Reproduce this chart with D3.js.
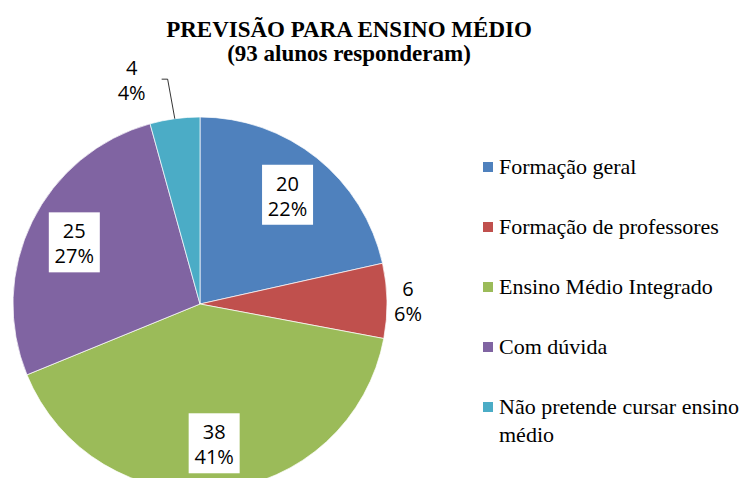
<!DOCTYPE html>
<html>
<head>
<meta charset="utf-8">
<script src="https://cdn.jsdelivr.net/npm/d3@7"></script>
<style>
  body { margin: 0; background: #fff; }
  .serif { font-family: "Liberation Serif", "Times New Roman", serif; }
</style>
</head>
<body>
<div id="chart"></div>
<script>
// data
var categories = ["Formação geral", "Formação de professores", "Ensino Médio Integrado", "Com dúvida", "Não pretende cursar ensino médio"];
var values = [20, 6, 38, 25, 4];
var colors = ["#4F81BD", "#C0504D", "#9BBB59", "#8064A2", "#4BACC6"];
var titleLines = ["PREVISÃO PARA ENSINO MÉDIO", "(93 alunos responderam)"];

var width = 752, height = 478;
var cx = 200, cy = 304, radius = 187;

var svg = d3.select("#chart")
  .append("svg")
    .attr("width", width)
    .attr("height", height);

// title
svg.selectAll(".title")
  .data(titleLines)
  .enter()
  .append("text")
    .attr("class", "serif")
    .attr("x", 349)
    .attr("y", function(d, i) { return 37 + i * 24; })
    .attr("text-anchor", "middle")
    .style("font-weight", "bold")
    .style("font-size", "23px")
    .text(function(d) { return d; });

var total = d3.sum(values);
var data = values.map(function(v, i) { return {name: categories[i], value: v, color: colors[i]}; });

var pie = d3.pie()
  .sort(null)
  .value(function(d) { return d.value; });

var arc = d3.arc()
  .innerRadius(0)
  .outerRadius(radius);

var g = svg.append("g")
  .attr("transform", "translate(" + cx + "," + cy + ")");

var arcs = pie(data);

g.selectAll("path")
  .data(arcs)
  .enter()
  .append("path")
    .attr("d", arc)
    .attr("fill", function(d) { return d.data.color; })
    .attr("stroke", "#fff")
    .attr("stroke-width", 0.7);

// label positions: big slices inside with white box, small ones outside
function labelPos(d) {
  var mid = (d.startAngle + d.endAngle) / 2;
  var r = 140;
  if (d.value < 10) r = radius + 21;
  if (d.index === 4) { mid = mid - 0.16; r = radius + 48; }
  return [Math.sin(mid) * r, -Math.cos(mid) * r];
}

// leader line for the last slice
var last = arcs[4];
var lmid = (last.startAngle + last.endAngle) / 2;
var lp = labelPos(last);
g.append("polyline")
  .attr("points", [
      [lp[0] + 30, lp[1]],
      [lp[0] + 36, lp[1]],
      [Math.sin(lmid) * radius, -Math.cos(lmid) * radius]
    ].map(function(p) { return p.join(","); }).join(" "))
  .attr("fill", "none")
  .attr("stroke", "#000")
  .attr("stroke-width", 0.8);

var labels = g.selectAll(".lbl")
  .data(arcs)
  .enter()
  .append("g")
    .attr("class", "lbl")
    .attr("transform", function(d) { return "translate(" + labelPos(d) + ")"; });

labels.filter(function(d) { return d.value >= 10; })
  .append("rect")
    .attr("x", -25.5)
    .attr("y", -30)
    .attr("width", 51)
    .attr("height", 60)
    .attr("fill", "#fff");

labels.append("text")
  .attr("text-anchor", "middle")
  .style("font-family", "'Open Sans', sans-serif")
  .style("font-size", "20px")
  .attr("fill", "#000")
  .selectAll("tspan")
  .data(function(d) { return [d.value, Math.round(d.value / total * 100) + "%"]; })
  .enter()
  .append("tspan")
    .attr("x", 0)
    .attr("y", function(d, i) { return -4 + i * 25; })
    .text(function(d) { return d; });

// legend
var legendLines = [["Formação geral"], ["Formação de professores"], ["Ensino Médio Integrado"], ["Com dúvida"], ["Não pretende cursar ensino", "médio"]];

var legend = svg.selectAll(".legend")
  .data(data)
  .enter()
  .append("g")
    .attr("class", "legend")
    .attr("transform", function(d, i) { return "translate(483," + (167 + i * 60) + ")"; });

legend.append("rect")
  .attr("x", 0)
  .attr("y", -5)
  .attr("width", 10)
  .attr("height", 10)
  .attr("fill", function(d) { return d.color; });

legend.append("text")
  .attr("class", "serif")
  .style("font-size", "22px")
  .attr("fill", "#000")
  .selectAll("tspan")
  .data(function(d, i) { return legendLines[i]; })
  .enter()
  .append("tspan")
    .attr("x", 16)
    .attr("y", function(d, i) { return 7 + i * 28; })
    .text(function(d) { return d; });
</script>
</body>
</html>
